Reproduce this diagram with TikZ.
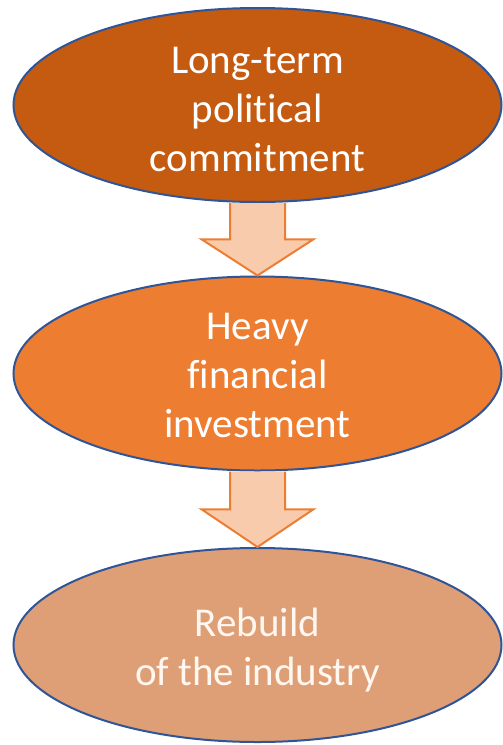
\documentclass[tikz,border=0pt]{standalone}
\usepackage{fontspec}
\setmainfont{Carlito}[Ligatures={NoCommon}]
\usetikzlibrary{shapes.geometric,calc}

\definecolor{rustfill}{HTML}{C55A11}
\definecolor{orangefill}{HTML}{ED7D31}
\definecolor{sandfill}{HTML}{DE9F77}
\definecolor{peachfill}{HTML}{F8CBAD}
\definecolor{rimblue}{HTML}{2F5597}

\tikzset{
  stage/.style={ellipse, draw=rimblue, line width=2pt, inner sep=0pt,
    minimum width=488pt, minimum height=194pt},
  stagetext/.style={align=center, text=white, font=\fontsize{41}{49}\selectfont},
  downarrow/.style={draw=orangefill, fill=peachfill, line width=2pt, line join=miter}
}

\begin{document}
\begin{tikzpicture}[x=1pt,y=-1pt]
\useasboundingbox (0,0) rectangle (503,745);
%\draw[step=50,color=gray] (0,0) grid (503,745);
\node[stage, fill=rustfill] (lt) at (257.5,105) {};
\node[stage, fill=orangefill] (hf) at (257.5,373.5) {};
\node[stage, fill=sandfill] (rb) at (257.5,645) {};
\node[stagetext, yshift=-4pt] (lt-text) at (lt) {Long-term\\political\\commitment};
\node[stagetext, yshift=-2pt] (hf-text) at (hf) {Heavy\\financial\\investment};
\node[stagetext, yshift=-5pt, text=white!94!orange] (rb-text) at (rb) {Rebuild\\of the industry};
% block arrows between the stages
\foreach \a/\b in {lt/hf,hf/rb}{
  \draw[downarrow] ($(\a.south)+(-27.5,0)$) -- ($(\a.south)!0.5!(\b.north)+(-27.5,0)$)
    -- ++(-28.5,0) -- (\b.north) -- ($(\a.south)!0.5!(\b.north)+(56,0)$)
    -- ++(-28.5,0) -- ($(\a.south)+(27.5,0)$);
}
\end{tikzpicture}
\end{document}
